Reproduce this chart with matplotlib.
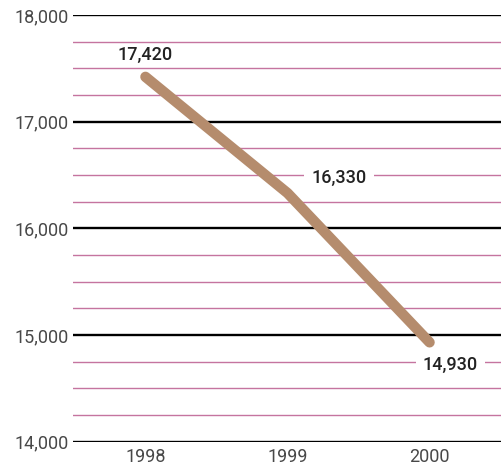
import matplotlib
matplotlib.use("Agg")
import matplotlib.pyplot as plt
from matplotlib.ticker import MultipleLocator, FuncFormatter

years = [1998, 1999, 2000]
values = [17420, 16330, 14930]
value_labels = ["17,420", "16,330", "14,930"]
# label offsets in points (dx, dy) and white box padding
label_offsets = [(0, 16), (37, 11), (15, -16)]
label_pads = [0.05, 0.4, 0.4]

plt.rcParams["font.family"] = ["Roboto", "DejaVu Sans"]

fig = plt.figure(figsize=(5.02, 4.73), dpi=100)
ax = fig.add_axes([73 / 502, 31.5 / 473, 429 / 502, 426.5 / 473])

ax.set_xlim(1997.49, 2000.51)
ax.set_ylim(14000, 18000)

ax.yaxis.set_major_locator(MultipleLocator(1000))
ax.yaxis.set_minor_locator(MultipleLocator(250))
ax.yaxis.set_major_formatter(FuncFormatter(lambda v, p: f"{int(v):,}"))
ax.set_xticks(years)
ax.set_xticklabels([str(y) for y in years])

ax.grid(axis="y", which="major", color="black", linewidth=1.7, zorder=1)
ax.grid(axis="y", which="minor", color="#c5749f", linewidth=1.0, zorder=1)
ax.set_axisbelow(True)

for s in ax.spines.values():
    s.set_visible(False)
ax.tick_params(axis="both", which="both", length=0)
ax.tick_params(axis="y", pad=3, labelsize=13, labelcolor="#484848")
ax.tick_params(axis="x", pad=5, labelsize=13, labelcolor="#484848")

ax.plot(years, values, color="#b58c6d", linewidth=7.5,
        solid_capstyle="round", solid_joinstyle="round", zorder=3)

for x, y, lab, (dx, dy), pad in zip(years, values, value_labels,
                                    label_offsets, label_pads):
    ax.annotate(lab, (x, y), xytext=(dx, dy), textcoords="offset points",
                ha="center", va="center", fontsize=13, color="#222222",
                fontweight="medium",
                bbox=dict(boxstyle=f"square,pad={pad}", fc="white", ec="none"),
                zorder=4)

fig.savefig("out.png", dpi=100)
